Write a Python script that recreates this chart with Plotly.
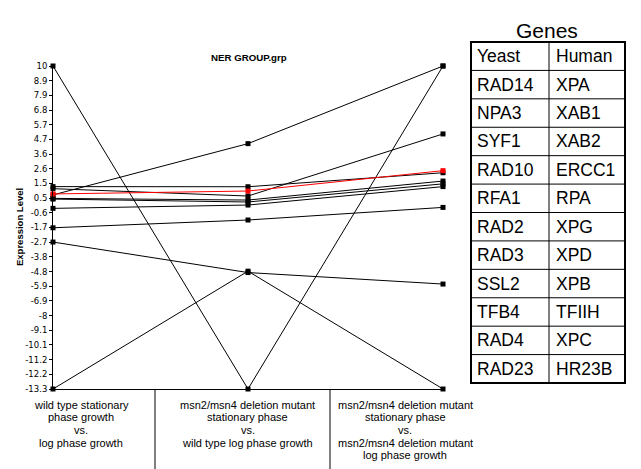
import plotly.graph_objects as go

# ---------------- data ----------------
conditions = [
    "wild type stationary<br>phase growth<br>vs.<br>log phase growth",
    "msn2/msn4 deletion mutant<br>stationary phase<br>vs.<br>wild type log phase growth",
    "msn2/msn4 deletion mutant<br>stationary phase<br>vs.<br>msn2/msn4 deletion mutant<br>log phase growth",
]
cond_idx = [0, 1, 2]

s_a = [1.3, 1.29, 2.3]
s_b = [1.15, 0.62, 5.1]
s_c = [0.45, 0.33, 1.7]
s_d = [0.4, 0.19, 1.5]
s_e = [-0.27, -0.03, 1.3]
s_f = [0.7, 4.4, 10.0]
s_g = [-1.67, -1.11, -0.2]
s_h = [-2.7, -4.9, -5.73]
s_i = [10.0, -13.3, 10.0]
s_j = [-13.3, -4.8, -13.3]
s_red = [0.77, 0.98, 2.45]

black_series = [s_a, s_b, s_c, s_d, s_e, s_f, s_g, s_h, s_i, s_j]
red_series = [s_red]

y_ticklabels = ["10", "8.9", "7.9", "6.8", "5.7", "4.7", "3.6", "2.6", "1.5", "0.5",
                "-0.6", "-1.7", "-2.7", "-3.8", "-4.8", "-5.9", "-6.9", "-8", "-9.1",
                "-10.1", "-11.2", "-12.2", "-13.3"]
y_max, y_min = 10.0, -13.3

yeast = ["RAD14", "NPA3", "SYF1", "RAD10", "RFA1", "RAD2", "RAD3", "SSL2", "TFB4", "RAD4", "RAD23"]
human = ["XPA", "XAB1", "XAB2", "ERCC1", "RPA", "XPG", "XPD", "XPB", "TFIIH", "XPC", "HR23B"]

# ---------------- layout helpers ----------------
W, H = 641, 469
PL, PR, PT, PB = 53, 443, 66, 389


def fx(px):
    return (px - PL) / (PR - PL)


def fy(py):
    return (PB - py) / (PB - PT)


fig = go.Figure()

for s in black_series:
    fig.add_trace(go.Scatter(
        x=cond_idx, y=s, mode="lines+markers",
        line=dict(color="#000000", width=1),
        marker=dict(symbol="square", size=5, color="#000000"),
        cliponaxis=False, hoverinfo="skip", showlegend=False))
for s in red_series:
    fig.add_trace(go.Scatter(
        x=cond_idx, y=s, mode="lines+markers",
        line=dict(color="#ff0000", width=1),
        marker=dict(symbol="square", size=5, color="#ff0000"),
        cliponaxis=False, hoverinfo="skip", showlegend=False))

n = len(y_ticklabels)
tickvals = [y_max - i * (y_max - y_min) / (n - 1) for i in range(n)]

shapes = []
annotations = []

# separators below the x axis
for px in (155, 330):
    shapes.append(dict(type="line", xref="paper", yref="paper",
                       x0=fx(px), x1=fx(px), y0=0, y1=fy(H),
                       line=dict(color="#000000", width=1)))

# category labels (one annotation per text line)
label_cx = [81, 247.5, 405]
for cx, lab in zip(label_cx, conditions):
    for k, line in enumerate(lab.split("<br>")):
        annotations.append(dict(
            text=line, xref="paper", yref="paper",
            x=fx(cx), y=fy(405 + 12.5 * k), xanchor="center", yanchor="middle",
            showarrow=False, font=dict(family="Liberation Sans, Arial", size=11, color="#000000")))

# chart title
annotations.append(dict(text="<b>NER GROUP.grp</b>", xref="paper", yref="paper",
                        x=fx(248.5), y=fy(57.5), xanchor="center", yanchor="middle",
                        showarrow=False,
                        font=dict(family="Liberation Sans, Arial", size=9.7, color="#000000")))
# y axis title
annotations.append(dict(text="<b>Expression Level</b>", xref="paper", yref="paper",
                        x=fx(19), y=fy(227), xanchor="center", yanchor="middle",
                        textangle=-90, showarrow=False,
                        font=dict(family="Liberation Sans, Arial", size=9.5, color="#000000")))

# ---------------- gene table ----------------
tx0, tx1, txm = 471, 625, 549
ty0, ty1 = 42, 383
rows = [("Yeast", "Human")] + list(zip(yeast, human))
rh = (ty1 - ty0) / len(rows)

annotations.append(dict(text="Genes", xref="paper", yref="paper",
                        x=fx(547), y=fy(30), xanchor="center", yanchor="middle",
                        showarrow=False,
                        font=dict(family="Liberation Sans, Arial", size=21, color="#000000")))
for r in range(1, len(rows)):
    yy = ty0 + r * rh
    shapes.append(dict(type="line", xref="paper", yref="paper",
                       x0=fx(tx0), x1=fx(tx1), y0=fy(yy), y1=fy(yy),
                       line=dict(color="#000000", width=1)))
shapes.append(dict(type="line", xref="paper", yref="paper",
                   x0=fx(txm), x1=fx(txm), y0=fy(ty0), y1=fy(ty1),
                   line=dict(color="#000000", width=1)))
shapes.append(dict(type="rect", xref="paper", yref="paper",
                   x0=fx(tx0), x1=fx(tx1), y0=fy(ty0), y1=fy(ty1),
                   line=dict(color="#000000", width=2)))
for r, (a, b) in enumerate(rows):
    yc = ty0 + (r + 0.5) * rh
    for xpos, txt in ((tx0 + 4, a), (txm + 5, b)):
        annotations.append(dict(text=txt, xref="paper", yref="paper",
                                x=fx(xpos), y=fy(yc), xanchor="left", yanchor="middle",
                                showarrow=False,
                                font=dict(family="Liberation Sans, Arial", size=17.5, color="#000000")))

fig.update_layout(
    width=W, height=H,
    margin=dict(l=PL, r=W - PR, t=PT, b=H - PB, pad=0),
    paper_bgcolor="#ffffff", plot_bgcolor="#ffffff",
    showlegend=False,
    shapes=shapes, annotations=annotations,
    xaxis=dict(range=[0, 2], showgrid=False, zeroline=False, showticklabels=False,
               ticks="", showline=True, linecolor="#000000", linewidth=1, fixedrange=True),
    yaxis=dict(range=[y_min, y_max], showgrid=False, zeroline=False,
               tickmode="array", tickvals=tickvals, ticktext=y_ticklabels,
               ticks="outside", ticklen=3, tickcolor="#000000", tickwidth=1,
               showline=True, linecolor="#000000", linewidth=1,
               tickfont=dict(family="DejaVu Sans", size=8.5, color="#000000"), fixedrange=True),
)

fig.write_html("out.html", config={"displayModeBar": False},
               post_script="document.body.style.margin='0';document.body.style.overflow='hidden';")
